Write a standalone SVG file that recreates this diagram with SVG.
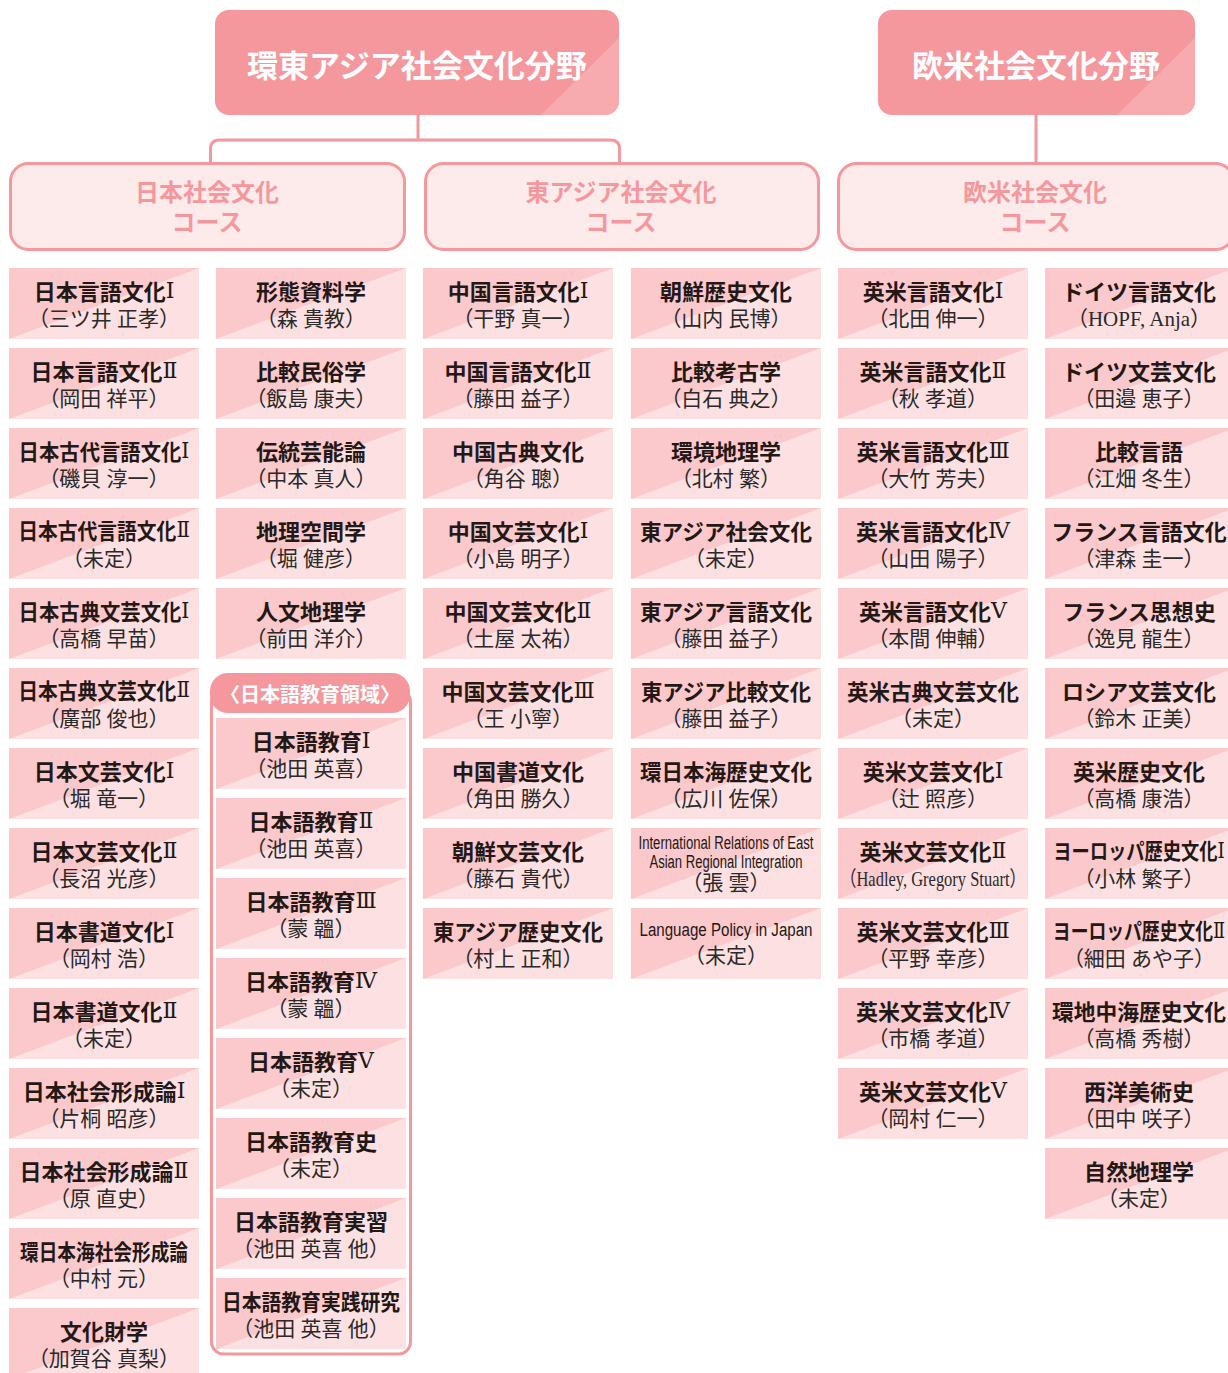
<svg xmlns="http://www.w3.org/2000/svg" xmlns:xlink="http://www.w3.org/1999/xlink" width="1228" height="1373" viewBox="0 0 1228 1373">
<style>
.hd{fill:#f5989e}
.hdtri{fill:#f7abae}
.hdt{font-family:"Noto Sans CJK JP",sans-serif;font-weight:700;font-size:31px;fill:#ffffff;text-anchor:middle;dominant-baseline:central}
.cb{fill:#fdeaeb;stroke:#f5989e;stroke-width:3}
.cbt{font-family:"Liberation Sans","Noto Sans CJK JP",sans-serif;font-weight:700;font-size:24px;fill:#f5989e;text-anchor:middle}
.con{fill:none;stroke:#f5989e;stroke-width:3}
.bg{fill:#fde0e2}
.tri{fill:#fbc8cb}
.t{font-family:"Noto Sans CJK JP",sans-serif;font-weight:700;font-size:22px;fill:#231815;text-anchor:middle;dominant-baseline:central}
.s{font-family:"Liberation Serif","Noto Sans CJK JP",serif;font-size:21px;fill:#2a2a2a;text-anchor:middle;dominant-baseline:central}
.n{font-family:"DejaVu Serif","DejaVu Sans",serif;font-weight:400}
.e{font-family:"Liberation Sans",sans-serif;font-size:18px;fill:#231815;text-anchor:middle;dominant-baseline:central}
.pill{fill:#f5989e}
.pt{font-family:"Noto Sans CJK JP",sans-serif;font-weight:700;font-size:20px;fill:#ffffff;text-anchor:middle;dominant-baseline:central}
.brk{fill:#ffffff;stroke:#f5989e;stroke-width:3}
</style>
<defs>
<g id="cellbg"><rect class="bg" x="0" y="0" width="190" height="71"/><path class="tri" d="M0,0 H190 L0,71 Z"/></g>
<clipPath id="clipL"><rect x="215" y="10" width="404" height="105" rx="14"/></clipPath>
<clipPath id="clipR"><rect x="878" y="10" width="317" height="105" rx="14"/></clipPath>
</defs>

<g id="connectors">
<path class="con" d="M418,115 V140"/>
<path class="con" d="M210.5,163 V149 Q210.5,140 219.5,140 H610.5 Q619.5,140 619.5,149 V163"/>
<path class="con" d="M1036,115 V163"/>
</g>

<g id="header-east-asia">
<rect class="hd" x="215" y="10" width="404" height="105" rx="14"/>
<polygon class="hdtri" clip-path="url(#clipL)" points="619,38 619,115 541,115"/>
<text class="hdt" x="417" y="63">環東アジア社会文化分野</text>
</g>
<g id="header-euro-america">
<rect class="hd" x="878" y="10" width="317" height="105" rx="14"/>
<polygon class="hdtri" clip-path="url(#clipR)" points="1195,38 1195,115 1117,115"/>
<text class="hdt" x="1036" y="63">欧米社会文化分野</text>
</g>

<g id="course-japan">
<rect class="cb" x="10.5" y="163.5" width="394" height="86" rx="18"/>
<text class="cbt" x="207" y="201">日本社会文化</text>
<text class="cbt" x="207" y="231">コース</text>
</g>
<g id="course-east-asia">
<rect class="cb" x="425.5" y="163.5" width="393" height="86" rx="18"/>
<text class="cbt" x="621" y="201">東アジア社会文化</text>
<text class="cbt" x="621" y="231">コース</text>
</g>
<g id="course-euro-america">
<rect class="cb" x="838.5" y="163.5" width="395" height="86" rx="18"/>
<text class="cbt" x="1035" y="201">欧米社会文化</text>
<text class="cbt" x="1035" y="231">コース</text>
</g>

<!-- Column 1 -->
<g id="c1-1" transform="translate(9,268)"><use href="#cellbg"/><text class="t" x="95" y="22">日本言語文化<tspan class="n">Ⅰ</tspan></text><text class="s" x="95" y="51">（三ツ井 正孝）</text></g>
<g id="c1-2" transform="translate(9,348)"><use href="#cellbg"/><text class="t" x="95" y="22">日本言語文化<tspan class="n">Ⅱ</tspan></text><text class="s" x="95" y="51">（岡田 祥平）</text></g>
<g id="c1-3" transform="translate(9,428)"><use href="#cellbg"/><text class="t" transform="translate(95,22) scale(0.925,1)">日本古代言語文化<tspan class="n">Ⅰ</tspan></text><text class="s" x="95" y="51">（磯貝 淳一）</text></g>
<g id="c1-4" transform="translate(9,508)"><use href="#cellbg"/><text class="t" transform="translate(95,22) scale(0.9,1)">日本古代言語文化<tspan class="n">Ⅱ</tspan></text><text class="s" x="95" y="51">（未定）</text></g>
<g id="c1-5" transform="translate(9,588)"><use href="#cellbg"/><text class="t" transform="translate(95,22) scale(0.925,1)">日本古典文芸文化<tspan class="n">Ⅰ</tspan></text><text class="s" x="95" y="51">（高橋 早苗）</text></g>
<g id="c1-6" transform="translate(9,668)"><use href="#cellbg"/><text class="t" transform="translate(95,22) scale(0.9,1)">日本古典文芸文化<tspan class="n">Ⅱ</tspan></text><text class="s" x="95" y="51">（廣部 俊也）</text></g>
<g id="c1-7" transform="translate(9,748)"><use href="#cellbg"/><text class="t" x="95" y="22">日本文芸文化<tspan class="n">Ⅰ</tspan></text><text class="s" x="95" y="51">（堀 竜一）</text></g>
<g id="c1-8" transform="translate(9,828)"><use href="#cellbg"/><text class="t" x="95" y="22">日本文芸文化<tspan class="n">Ⅱ</tspan></text><text class="s" x="95" y="51">（長沼 光彦）</text></g>
<g id="c1-9" transform="translate(9,908)"><use href="#cellbg"/><text class="t" x="95" y="22">日本書道文化<tspan class="n">Ⅰ</tspan></text><text class="s" x="95" y="51">（岡村 浩）</text></g>
<g id="c1-10" transform="translate(9,988)"><use href="#cellbg"/><text class="t" x="95" y="22">日本書道文化<tspan class="n">Ⅱ</tspan></text><text class="s" x="95" y="51">（未定）</text></g>
<g id="c1-11" transform="translate(9,1068)"><use href="#cellbg"/><text class="t" x="95" y="22">日本社会形成論<tspan class="n">Ⅰ</tspan></text><text class="s" x="95" y="51">（片桐 昭彦）</text></g>
<g id="c1-12" transform="translate(9,1148)"><use href="#cellbg"/><text class="t" x="95" y="22">日本社会形成論<tspan class="n">Ⅱ</tspan></text><text class="s" x="95" y="51">（原 直史）</text></g>
<g id="c1-13" transform="translate(9,1228)"><use href="#cellbg"/><text class="t" x="95" y="22" textLength="168" lengthAdjust="spacingAndGlyphs">環日本海社会形成論</text><text class="s" x="95" y="51">（中村 元）</text></g>
<g id="c1-14" transform="translate(9,1308)"><use href="#cellbg"/><text class="t" x="95" y="22">文化財学</text><text class="s" x="95" y="51">（加賀谷 真梨）</text></g>

<!-- Column 2 -->
<g id="c2-1" transform="translate(216,268)"><use href="#cellbg"/><text class="t" x="95" y="22">形態資料学</text><text class="s" x="95" y="51">（森 貴教）</text></g>
<g id="c2-2" transform="translate(216,348)"><use href="#cellbg"/><text class="t" x="95" y="22">比較民俗学</text><text class="s" x="95" y="51">（飯島 康夫）</text></g>
<g id="c2-3" transform="translate(216,428)"><use href="#cellbg"/><text class="t" x="95" y="22">伝統芸能論</text><text class="s" x="95" y="51">（中本 真人）</text></g>
<g id="c2-4" transform="translate(216,508)"><use href="#cellbg"/><text class="t" x="95" y="22">地理空間学</text><text class="s" x="95" y="51">（堀 健彦）</text></g>
<g id="c2-5" transform="translate(216,588)"><use href="#cellbg"/><text class="t" x="95" y="22">人文地理学</text><text class="s" x="95" y="51">（前田 洋介）</text></g>

<g id="jpedu-area">
<rect class="brk" x="211.5" y="690" width="199" height="664" rx="12"/>
<rect class="pill" x="210" y="673" width="200" height="40" rx="18"/>
<text class="pt" x="310" y="693">〈日本語教育領域〉</text>
</g>
<g id="c2-6" transform="translate(216,718)"><use href="#cellbg"/><text class="t" x="95" y="22">日本語教育<tspan class="n">Ⅰ</tspan></text><text class="s" x="95" y="51">（池田 英喜）</text></g>
<g id="c2-7" transform="translate(216,798)"><use href="#cellbg"/><text class="t" x="95" y="22">日本語教育<tspan class="n">Ⅱ</tspan></text><text class="s" x="95" y="51">（池田 英喜）</text></g>
<g id="c2-8" transform="translate(216,878)"><use href="#cellbg"/><text class="t" x="95" y="22">日本語教育<tspan class="n">Ⅲ</tspan></text><text class="s" x="95" y="51">（蒙 韞）</text></g>
<g id="c2-9" transform="translate(216,958)"><use href="#cellbg"/><text class="t" x="95" y="22">日本語教育<tspan class="n">Ⅳ</tspan></text><text class="s" x="95" y="51">（蒙 韞）</text></g>
<g id="c2-10" transform="translate(216,1038)"><use href="#cellbg"/><text class="t" x="95" y="22">日本語教育<tspan class="n">Ⅴ</tspan></text><text class="s" x="95" y="51">（未定）</text></g>
<g id="c2-11" transform="translate(216,1118)"><use href="#cellbg"/><text class="t" x="95" y="22">日本語教育史</text><text class="s" x="95" y="51">（未定）</text></g>
<g id="c2-12" transform="translate(216,1198)"><use href="#cellbg"/><text class="t" x="95" y="22">日本語教育実習</text><text class="s" x="95" y="51">（池田 英喜 他）</text></g>
<g id="c2-13" transform="translate(216,1278)"><use href="#cellbg"/><text class="t" x="95" y="22" textLength="178" lengthAdjust="spacingAndGlyphs">日本語教育実践研究</text><text class="s" x="95" y="51">（池田 英喜 他）</text></g>

<!-- Column 3 -->
<g id="c3-1" transform="translate(423,268)"><use href="#cellbg"/><text class="t" x="95" y="22">中国言語文化<tspan class="n">Ⅰ</tspan></text><text class="s" x="95" y="51">（干野 真一）</text></g>
<g id="c3-2" transform="translate(423,348)"><use href="#cellbg"/><text class="t" x="95" y="22">中国言語文化<tspan class="n">Ⅱ</tspan></text><text class="s" x="95" y="51">（藤田 益子）</text></g>
<g id="c3-3" transform="translate(423,428)"><use href="#cellbg"/><text class="t" x="95" y="22">中国古典文化</text><text class="s" x="95" y="51">（角谷 聰）</text></g>
<g id="c3-4" transform="translate(423,508)"><use href="#cellbg"/><text class="t" x="95" y="22">中国文芸文化<tspan class="n">Ⅰ</tspan></text><text class="s" x="95" y="51">（小島 明子）</text></g>
<g id="c3-5" transform="translate(423,588)"><use href="#cellbg"/><text class="t" x="95" y="22">中国文芸文化<tspan class="n">Ⅱ</tspan></text><text class="s" x="95" y="51">（土屋 太祐）</text></g>
<g id="c3-6" transform="translate(423,668)"><use href="#cellbg"/><text class="t" x="95" y="22">中国文芸文化<tspan class="n">Ⅲ</tspan></text><text class="s" x="95" y="51">（王 小寧）</text></g>
<g id="c3-7" transform="translate(423,748)"><use href="#cellbg"/><text class="t" x="95" y="22">中国書道文化</text><text class="s" x="95" y="51">（角田 勝久）</text></g>
<g id="c3-8" transform="translate(423,828)"><use href="#cellbg"/><text class="t" x="95" y="22">朝鮮文芸文化</text><text class="s" x="95" y="51">（藤石 貴代）</text></g>
<g id="c3-9" transform="translate(423,908)"><use href="#cellbg"/><text class="t" x="95" y="22" textLength="170" lengthAdjust="spacingAndGlyphs">東アジア歴史文化</text><text class="s" x="95" y="51">（村上 正和）</text></g>

<!-- Column 4 -->
<g id="c4-1" transform="translate(631,268)"><use href="#cellbg"/><text class="t" x="95" y="22">朝鮮歴史文化</text><text class="s" x="95" y="51">（山内 民博）</text></g>
<g id="c4-2" transform="translate(631,348)"><use href="#cellbg"/><text class="t" x="95" y="22">比較考古学</text><text class="s" x="95" y="51">（白石 典之）</text></g>
<g id="c4-3" transform="translate(631,428)"><use href="#cellbg"/><text class="t" x="95" y="22">環境地理学</text><text class="s" x="95" y="51">（北村 繁）</text></g>
<g id="c4-4" transform="translate(631,508)"><use href="#cellbg"/><text class="t" x="95" y="22" textLength="172" lengthAdjust="spacingAndGlyphs">東アジア社会文化</text><text class="s" x="95" y="51">（未定）</text></g>
<g id="c4-5" transform="translate(631,588)"><use href="#cellbg"/><text class="t" x="95" y="22" textLength="172" lengthAdjust="spacingAndGlyphs">東アジア言語文化</text><text class="s" x="95" y="51">（藤田 益子）</text></g>
<g id="c4-6" transform="translate(631,668)"><use href="#cellbg"/><text class="t" x="95" y="22" textLength="170" lengthAdjust="spacingAndGlyphs">東アジア比較文化</text><text class="s" x="95" y="51">（藤田 益子）</text></g>
<g id="c4-7" transform="translate(631,748)"><use href="#cellbg"/><text class="t" x="95" y="22" textLength="172" lengthAdjust="spacingAndGlyphs">環日本海歴史文化</text><text class="s" x="95" y="51">（広川 佐保）</text></g>
<g id="c4-8" transform="translate(631,828)"><use href="#cellbg"/><text class="e" x="95" y="15" textLength="175" lengthAdjust="spacingAndGlyphs">International Relations of East</text><text class="e" x="95" y="34" textLength="153" lengthAdjust="spacingAndGlyphs">Asian Regional Integration</text><text class="s" x="95" y="55">（張 雲）</text></g>
<g id="c4-9" transform="translate(631,908)"><use href="#cellbg"/><text class="e" x="95" y="22" textLength="173" lengthAdjust="spacingAndGlyphs">Language Policy in Japan</text><text class="s" x="95" y="48">（未定）</text></g>

<!-- Column 5 -->
<g id="c5-1" transform="translate(838,268)"><use href="#cellbg"/><text class="t" x="95" y="22">英米言語文化<tspan class="n">Ⅰ</tspan></text><text class="s" x="95" y="51">（北田 伸一）</text></g>
<g id="c5-2" transform="translate(838,348)"><use href="#cellbg"/><text class="t" x="95" y="22">英米言語文化<tspan class="n">Ⅱ</tspan></text><text class="s" x="95" y="51">（秋 孝道）</text></g>
<g id="c5-3" transform="translate(838,428)"><use href="#cellbg"/><text class="t" x="95" y="22">英米言語文化<tspan class="n">Ⅲ</tspan></text><text class="s" x="95" y="51">（大竹 芳夫）</text></g>
<g id="c5-4" transform="translate(838,508)"><use href="#cellbg"/><text class="t" x="95" y="22">英米言語文化<tspan class="n">Ⅳ</tspan></text><text class="s" x="95" y="51">（山田 陽子）</text></g>
<g id="c5-5" transform="translate(838,588)"><use href="#cellbg"/><text class="t" x="95" y="22">英米言語文化<tspan class="n">Ⅴ</tspan></text><text class="s" x="95" y="51">（本間 伸輔）</text></g>
<g id="c5-6" transform="translate(838,668)"><use href="#cellbg"/><text class="t" x="95" y="22" textLength="172" lengthAdjust="spacingAndGlyphs">英米古典文芸文化</text><text class="s" x="95" y="51">（未定）</text></g>
<g id="c5-7" transform="translate(838,748)"><use href="#cellbg"/><text class="t" x="95" y="22">英米文芸文化<tspan class="n">Ⅰ</tspan></text><text class="s" x="95" y="51">（辻 照彦）</text></g>
<g id="c5-8" transform="translate(838,828)"><use href="#cellbg"/><text class="t" x="95" y="22">英米文芸文化<tspan class="n">Ⅱ</tspan></text><text class="s" x="95" y="51" textLength="186" lengthAdjust="spacingAndGlyphs">（Hadley, Gregory Stuart）</text></g>
<g id="c5-9" transform="translate(838,908)"><use href="#cellbg"/><text class="t" x="95" y="22">英米文芸文化<tspan class="n">Ⅲ</tspan></text><text class="s" x="95" y="51">（平野 幸彦）</text></g>
<g id="c5-10" transform="translate(838,988)"><use href="#cellbg"/><text class="t" x="95" y="22">英米文芸文化<tspan class="n">Ⅳ</tspan></text><text class="s" x="95" y="51">（市橋 孝道）</text></g>
<g id="c5-11" transform="translate(838,1068)"><use href="#cellbg"/><text class="t" x="95" y="22">英米文芸文化<tspan class="n">Ⅴ</tspan></text><text class="s" x="95" y="51">（岡村 仁一）</text></g>

<!-- Column 6 -->
<g id="c6-1" transform="translate(1045,268)"><use href="#cellbg"/><text class="t" x="94" y="22">ドイツ言語文化</text><text class="s" x="94" y="51">（HOPF, Anja）</text></g>
<g id="c6-2" transform="translate(1045,348)"><use href="#cellbg"/><text class="t" x="94" y="22">ドイツ文芸文化</text><text class="s" x="94" y="51">（田邉 恵子）</text></g>
<g id="c6-3" transform="translate(1045,428)"><use href="#cellbg"/><text class="t" x="94" y="22">比較言語</text><text class="s" x="94" y="51">（江畑 冬生）</text></g>
<g id="c6-4" transform="translate(1045,508)"><use href="#cellbg"/><text class="t" x="94" y="22">フランス言語文化</text><text class="s" x="94" y="51">（津森 圭一）</text></g>
<g id="c6-5" transform="translate(1045,588)"><use href="#cellbg"/><text class="t" x="94" y="22">フランス思想史</text><text class="s" x="94" y="51">（逸見 龍生）</text></g>
<g id="c6-6" transform="translate(1045,668)"><use href="#cellbg"/><text class="t" x="94" y="22">ロシア文芸文化</text><text class="s" x="94" y="51">（鈴木 正美）</text></g>
<g id="c6-7" transform="translate(1045,748)"><use href="#cellbg"/><text class="t" x="94" y="22">英米歴史文化</text><text class="s" x="94" y="51">（高橋 康浩）</text></g>
<g id="c6-8" transform="translate(1045,828)"><use href="#cellbg"/><text class="t" transform="translate(94,22) scale(0.83,1)">ヨーロッパ歴史文化<tspan class="n">Ⅰ</tspan></text><text class="s" x="94" y="51">（小林 繁子）</text></g>
<g id="c6-9" transform="translate(1045,908)"><use href="#cellbg"/><text class="t" transform="translate(94,22) scale(0.81,1)">ヨーロッパ歴史文化<tspan class="n">Ⅱ</tspan></text><text class="s" x="94" y="51">（細田 あや子）</text></g>
<g id="c6-10" transform="translate(1045,988)"><use href="#cellbg"/><text class="t" x="94" y="22" textLength="174" lengthAdjust="spacingAndGlyphs">環地中海歴史文化</text><text class="s" x="94" y="51">（高橋 秀樹）</text></g>
<g id="c6-11" transform="translate(1045,1068)"><use href="#cellbg"/><text class="t" x="94" y="22">西洋美術史</text><text class="s" x="94" y="51">（田中 咲子）</text></g>
<g id="c6-12" transform="translate(1045,1148)"><use href="#cellbg"/><text class="t" x="94" y="22">自然地理学</text><text class="s" x="94" y="51">（未定）</text></g>
</svg>
